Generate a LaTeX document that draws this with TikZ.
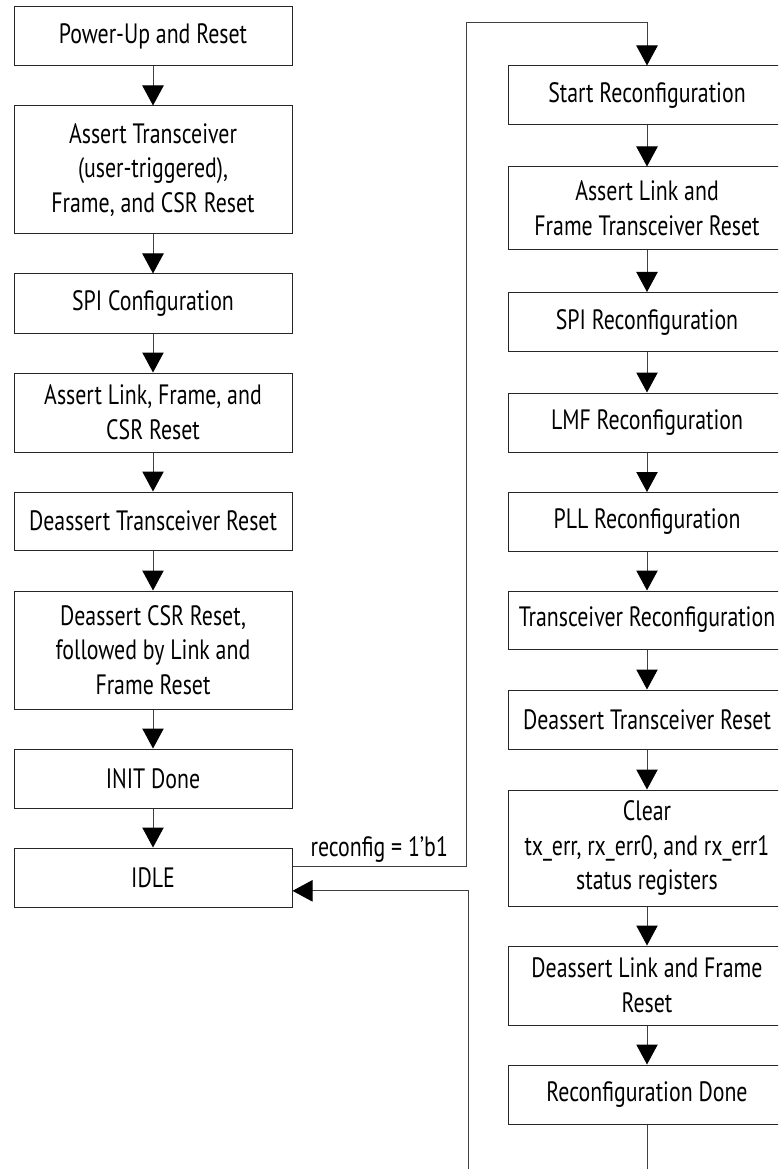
\documentclass[tikz,border=0pt]{standalone}
\usepackage{fontspec}
\setmainfont[FakeStretch=0.78]{PT Sans}
\usetikzlibrary{arrows.meta}

\begin{document}
\begin{tikzpicture}[x=0.75pt,y=-0.75pt,
		blk/.style={draw=black!85,line width=0.75pt,minimum width=208.5pt,minimum height=44.25pt,
			align=center,inner sep=2pt,font=\fontsize{21}{26}\selectfont},
		arr/.style={draw=black!75,line width=0.75pt,-{Triangle[width=16pt,length=15pt,color=black]}},
		lbl/.style={font=\fontsize{21}{26}\selectfont,inner sep=3pt}]
			\clip (0,0) rectangle (778,1169);

			% Левая колонка
			\node[blk] (pwr) at (153,36.5) {Power-Up and Reset};
			\node[blk,minimum height=96pt] (atx) at (153,170) {Assert Transceiver\\(user-triggered),\\Frame, and CSR Reset};
			\node[blk] (spi) at (153,303.5) {SPI Configuration};
			\node[blk,minimum height=59.25pt] (alfc) at (153,412.5) {Assert Link, Frame, and\\CSR Reset};
			\node[blk,minimum height=43.5pt] (dtx) at (153,521) {Deassert Transceiver Reset};
			\node[blk,minimum height=88.5pt] (dcsr) at (153,650) {Deassert CSR Reset,\\followed by Link and\\Frame Reset};
			\node[blk] (init) at (153,778.5) {INIT Done};
			\node[blk] (idle) at (153,877.5) {IDLE};

			% Правая колонка
			\node[blk] (start) at (647,95.5) {Start Reconfiguration};
			\node[blk,minimum height=62.25pt] (alft) at (647,208.5) {Assert Link and\\Frame Transceiver Reset};
			\node[blk] (spir) at (647,322) {SPI Reconfiguration};
			\node[blk] (lmfr) at (647,422.5) {LMF Reconfiguration};
			\node[blk] (pllr) at (647,522) {PLL Reconfiguration};
			\node[blk,minimum height=43.5pt] (txr) at (647,620) {Transceiver Reconfiguration};
			\node[blk] (dtxr) at (647,719.5) {Deassert Transceiver Reset};
			\node[blk,minimum height=87pt] (clr) at (647,848) {Clear\\tx\_err, rx\_err0, and rx\_err1\\status registers};
			\node[blk,minimum height=59.25pt] (dlfr) at (647,985.5) {Deassert Link and Frame\\Reset};
			\node[blk] (rdone) at (647,1094.5) {Reconfiguration Done};

			% Стрелки слева
			\draw[arr] (pwr) -- (atx);
			\draw[arr] (atx) -- (spi);
			\draw[arr] (spi) -- (alfc);
			\draw[arr] (alfc) -- (dtx);
			\draw[arr] (dtx) -- (dcsr);
			\draw[arr] (dcsr) -- (init);
			\draw[arr] (init) -- (idle);

			% Стрелки справа
			\draw[arr] (start) -- (alft);
			\draw[arr] (alft) -- (spir);
			\draw[arr] (spir) -- (lmfr);
			\draw[arr] (lmfr) -- (pllr);
			\draw[arr] (pllr) -- (txr);
			\draw[arr] (txr) -- (dtxr);
			\draw[arr] (dtxr) -- (clr);
			\draw[arr] (clr) -- (dlfr);
			\draw[arr] (dlfr) -- (rdone);

			% Переход в реконфигурацию и возврат
			\coordinate (up) at (466,23);
			\coordinate (dn) at (468,1200);
			\draw[arr] ([yshift=7.9pt]idle.east) -| node[lbl,pos=0.25,above] (rcf) {reconfig = 1’b1} (up) -| (start.north);
			\draw[arr] (rdone.south) |- (dn) |- ([yshift=-10pt]idle.east);
		\end{tikzpicture}
\end{document}
